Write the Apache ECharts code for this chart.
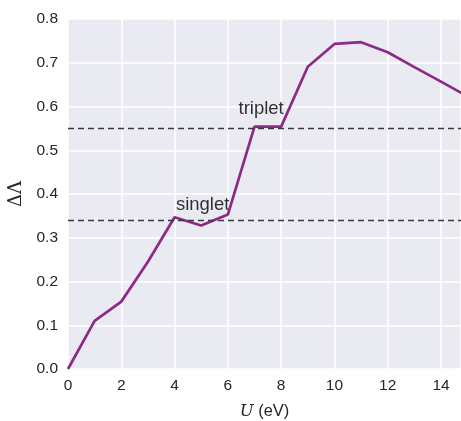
<!DOCTYPE html>
<html>
<head>
<meta charset="utf-8">
<script src="https://cdn.jsdelivr.net/npm/echarts@6/dist/echarts.min.js"></script>
<style>
  html, body { margin: 0; padding: 0; background: #fff; }
  #chart { width: 461px; height: 421px; }
</style>
</head>
<body>
<div id="chart"></div>
<script>
// Interaction strength U (eV) and the resulting ΔΛ
const uValues = [0, 1, 2, 3, 4, 5, 6, 7, 8, 9, 10, 11, 12, 13, 14, 15];
const deltaLambda = [0.0, 0.110, 0.154, 0.245, 0.347, 0.328, 0.353, 0.554, 0.554, 0.691, 0.743, 0.747, 0.724, 0.690, 0.657, 0.623];

// Reference levels
const levels = [
  { name: 'singlet', value: 0.3435, labelAt: [4.05, 0.354] },
  { name: 'triplet', value: 0.553, labelAt: [6.4, 0.573] }
];

const xTicks = { min: 0, max: 14.75, interval: 2 };
const yTicks = { min: 0, max: 0.8, interval: 0.1 };

const chart = echarts.init(document.getElementById('chart'), null, { renderer: 'canvas' });

chart.setOption({
  animation: false,
  backgroundColor: '#ffffff',
  grid: {
    left: 68, right: 0, top: 19, bottom: 52,
    outerBoundsMode: 'none',
    containLabel: false,
    show: true, backgroundColor: '#EAEAF2', borderWidth: 0
  },
  xAxis: {
    type: 'value',
    min: xTicks.min, max: xTicks.max, interval: xTicks.interval,
    axisLine: { show: false },
    axisTick: { show: false },
    splitLine: { lineStyle: { color: '#ffffff', width: 1.5 } },
    axisLabel: {
      showMaxLabel: false,
      color: '#262626', fontSize: 15.5, fontFamily: 'Liberation Sans, Arial, sans-serif', margin: 9
    },
    name: '{i|U} (eV)',
    nameLocation: 'middle',
    nameGap: 34,
    nameTextStyle: {
      color: '#262626', fontSize: 16.5, fontFamily: 'Liberation Sans, Arial, sans-serif',
      rich: {
        i: { fontFamily: 'DejaVu Serif, serif', fontStyle: 'italic', fontSize: 16.5, color: '#262626' }
      }
    }
  },
  yAxis: {
    type: 'value',
    min: yTicks.min, max: yTicks.max, interval: yTicks.interval,
    axisLine: { show: false },
    axisTick: { show: false },
    splitLine: { lineStyle: { color: '#ffffff', width: 1.5 } },
    axisLabel: {
      formatter: v => v.toFixed(1),
      color: '#262626', fontSize: 15.5, fontFamily: 'Liberation Sans, Arial, sans-serif', margin: 10
    },
    name: 'ΔΛ',
    nameLocation: 'middle',
    nameGap: 38,
    nameTextStyle: { color: '#262626', fontSize: 18, fontFamily: 'DejaVu Serif, serif' }
  },
  series: [
    {
      type: 'line',
      data: uValues.map((u, i) => [u, deltaLambda[i]]),
      clip: true,
      symbol: 'none',
      lineStyle: { color: '#8c2a87', width: 2.7 },
      markLine: {
        silent: true,
        symbol: 'none',
        label: { show: false },
        lineStyle: { color: '#3a3a3a', type: [6, 4], width: 1.4 },
        data: levels.map(l => ({ yAxis: l.value }))
      }
    },
    {
      type: 'scatter',
      symbolSize: 0,
      silent: true,
      data: levels.map(l => ({ name: l.name, value: l.labelAt })),
      label: {
        show: true,
        position: [0, 0],
        align: 'left',
        verticalAlign: 'bottom',
        formatter: p => p.name,
        color: '#000000',
        fontSize: 18.5,
        fontFamily: 'Liberation Sans, Arial, sans-serif'
      }
    }
  ]
});
</script>
</body>
</html>
